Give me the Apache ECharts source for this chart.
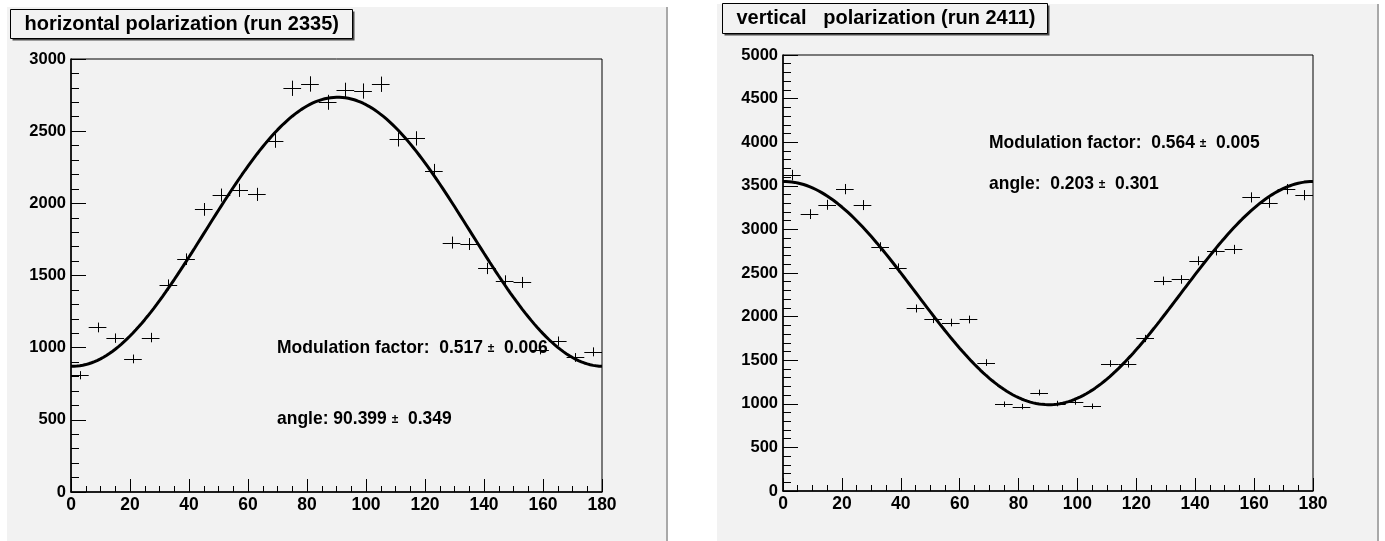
<!DOCTYPE html>
<html><head><meta charset="utf-8">
<script src="https://cdn.jsdelivr.net/npm/echarts@6/dist/echarts.min.js"></script>
<style>html,body{margin:0;padding:0;background:#fff}#c{width:1385px;height:541px}</style>
</head><body><div id="c"></div>
<script>
// ---- data ----
const angles = [3,9,15,21,27,33,39,45,51,57,63,69,75,81,87,93,99,105,111,117,123,129,135,141,147,153,159,165,171,177];
const hCounts = [809,1140,1066,922,1070,1435,1613,1958,2057,2090,2062,2434,2797,2827,2700,2783,2778,2825,2443,2450,2226,1728,1718,1549,1463,1452,985,1045,932,971];
const vCounts = [3623,3175,3282,3462,3279,2800,2559,2093,1970,1932,1967,1473,995,968,1129,1003,1021,972,1462,1454,1749,2410,2426,2640,2754,2770,3367,3305,3462,3393];
const binHalfWidth = 3;
const hFit = {mean: 1803, mod: 0.517, modErr: 0.006, phase: 90.399, phaseErr: 0.349};
const vFit = {mean: 2270, mod: 0.564, modErr: 0.005, phase: 0.203, phaseErr: 0.301};
const hTitle = 'horizontal polarization (run 2335)';
const vTitle = 'vertical   polarization (run 2411)';

const FONT = '"Liberation Sans", Arial, Helvetica, sans-serif';

function fitCurve(p){
  const pts = [];
  for (let x = 0; x <= 180; x += 1) {
    pts.push([x, p.mean * (1 + p.mod * Math.cos(2 * (x - p.phase) * Math.PI / 180))]);
  }
  return pts;
}
function crossRender(params, api){
  const x = api.value(0), y = api.value(1), e = api.value(2);
  const l = api.coord([x - binHalfWidth, y]), r = api.coord([x + binHalfWidth, y]);
  const t = api.coord([x, y + e]), b = api.coord([x, y - e]);
  const st = {stroke:'#000', lineWidth:1};
  return {type:'group', children:[
    {type:'line', shape:{x1:l[0], y1:Math.round(l[1])+0.5, x2:r[0], y2:Math.round(r[1])+0.5}, style:st},
    {type:'line', shape:{x1:Math.round(t[0])+0.5, y1:t[1], x2:Math.round(b[0])+0.5, y2:b[1]}, style:st}
  ]};
}
function plain(v){ return String(v); }
function xAx(idx){
  return {gridIndex:idx, type:'value', min:0, max:180, interval:20,
    axisLine:{lineStyle:{color:'#000', width:1.5}},
    axisTick:{inside:true, length:13, lineStyle:{color:'#000', width:1}},
    minorTick:{show:true, splitNumber:4, length:6, lineStyle:{color:'#000', width:1}},
    splitLine:{show:false},
    axisLabel:{color:'#000', fontSize:17.5, fontWeight:'bold', fontFamily:FONT, margin:4, formatter:plain}};
}
function yAx(idx, max){
  return {gridIndex:idx, type:'value', min:0, max:max, interval:500,
    axisLine:{show:true, lineStyle:{color:'#000', width:1.5}},
    axisTick:{show:true, inside:true, length:15, lineStyle:{color:'#000', width:1}},
    minorTick:{show:true, splitNumber:5, length:8, lineStyle:{color:'#000', width:1}},
    splitLine:{show:false},
    axisLabel:{color:'#000', fontSize:16.5, fontWeight:'bold', fontFamily:FONT, margin:5, formatter:plain}};
}
function titleBox(x, y, w, h, text){
  return {type:'group', children:[
    {type:'rect', shape:{x:x+2, y:y+2, width:w, height:h}, style:{fill:'#4a4a4a'}},
    {type:'rect', shape:{x:x, y:y, width:w, height:h}, style:{fill:'#f2f2f2', stroke:'#000', lineWidth:1}},
    {type:'text', x:x+14, y:y+h/2, style:{text:text, fill:'#000', font:'bold 20px ' + FONT, textVerticalAlign:'middle'}}
  ]};
}
function fitText(x, y, label, val, err){
  return {type:'text', x:x, y:y, scaleX:0.92, style:{
    text:'{a|' + label + val.toFixed(3) + ' }{b|±}{a|  ' + err.toFixed(3) + '}',
    textVerticalAlign:'middle',
    rich:{a:{fontSize:19, fontWeight:'bold', fontFamily:FONT, fill:'#000', color:'#000'},
          b:{fontSize:13, fontWeight:'bold', fontFamily:FONT, fill:'#000', color:'#000'}}
  }};
}

const chart = echarts.init(document.getElementById('c'));
chart.setOption({
  backgroundColor:'#fff',
  animation:false,
  graphic:[
    {type:'rect', z:-10, shape:{x:7, y:7, width:659, height:534}, style:{fill:'#f2f2f2'}},
    {type:'rect', z:-10, shape:{x:666, y:7, width:2, height:534}, style:{fill:'#a9a9a9'}},
    {type:'rect', z:-10, shape:{x:717, y:4, width:660, height:537}, style:{fill:'#f2f2f2'}},
    {type:'rect', z:-10, shape:{x:1377, y:4, width:2, height:537}, style:{fill:'#a9a9a9'}},
    titleBox(10.5, 9.5, 342, 29, hTitle),
    titleBox(722.5, 3.5, 325, 30, vTitle),
    fitText(277, 348, 'Modulation factor:  ', hFit.mod, hFit.modErr),
    fitText(277, 419, 'angle: ', hFit.phase, hFit.phaseErr),
    fitText(989, 143, 'Modulation factor:  ', vFit.mod, vFit.modErr),
    fitText(989, 184, 'angle:  ', vFit.phase, vFit.phaseErr)
  ],
  grid:[
    {left:71, top:59, width:531, height:433, show:true, borderColor:'#000', borderWidth:1, backgroundColor:'transparent', containLabel:false},
    {left:783, top:55, width:530, height:436, show:true, borderColor:'#000', borderWidth:1, backgroundColor:'transparent', containLabel:false}
  ],
  xAxis:[xAx(0), xAx(1)],
  yAxis:[yAx(0, 3000), yAx(1, 5000)],
  series:[
    {type:'custom', xAxisIndex:0, yAxisIndex:0, renderItem:crossRender, encode:{x:0, y:1},
     data:angles.map((a,i)=>[a, hCounts[i], Math.sqrt(hCounts[i])]), silent:true},
    {type:'line', xAxisIndex:0, yAxisIndex:0, data:fitCurve(hFit), showSymbol:false, symbol:'none',
     lineStyle:{color:'#000', width:3}, silent:true},
    {type:'custom', xAxisIndex:1, yAxisIndex:1, renderItem:crossRender, encode:{x:0, y:1},
     data:angles.map((a,i)=>[a, vCounts[i], Math.sqrt(vCounts[i])]), silent:true},
    {type:'line', xAxisIndex:1, yAxisIndex:1, data:fitCurve(vFit), showSymbol:false, symbol:'none',
     lineStyle:{color:'#000', width:3}, silent:true}
  ]
});
</script></body></html>
